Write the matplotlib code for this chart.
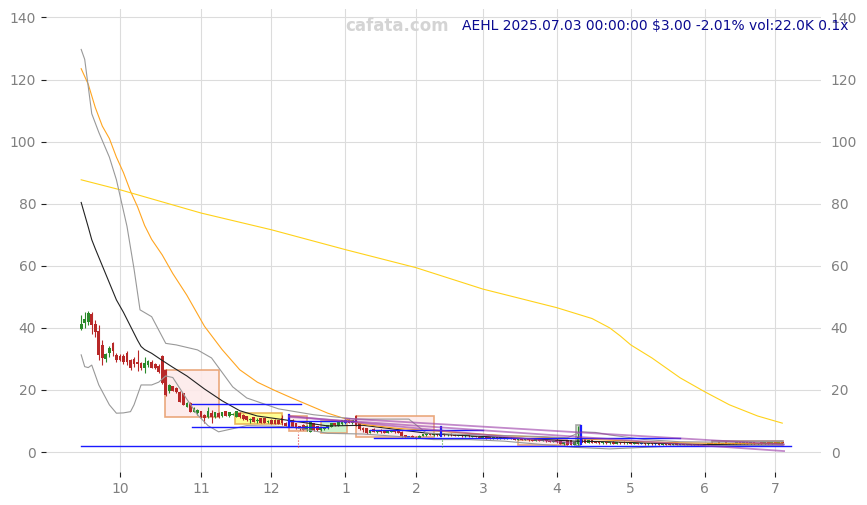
import matplotlib
matplotlib.use("Agg")
import matplotlib.pyplot as plt
from matplotlib.patches import Rectangle
import numpy as np

# daily candles, trading-day index 0..199 (2024-09-16 .. 2025-07-03)
opens = [
    39.7, 41.5, 42.0, 44.4, 41.3, 38.8, 34.5, 30.0, 31.8, 35.0,
    31.3, 30.8, 31.0, 31.8, 29.7, 30.0, 29.0, 28.6, 27.0, 28.1,
    28.9, 28.3, 27.7, 30.8, 26.4, 19.5, 21.1, 20.5, 19.2, 18.9,
    14.6, 15.7, 13.0, 12.5, 13.0, 11.9, 11.4, 12.5, 11.3, 12.5,
    11.5, 13.0, 11.5, 12.0, 11.4, 12.5, 11.9, 11.4, 10.3, 11.2,
    10.0, 10.9, 10.8, 9.6, 10.3, 10.3, 10.1, 10.8, 9.4, 10.5,
    10.3, 9.2, 8.2, 8.7, 7.2, 6.6, 9.2, 8.2, 7.0, 7.4,
    7.6, 8.2, 9.2, 8.5, 9.0, 9.2, 10.3, 9.3, 11.6, 9.2,
    7.8, 7.6, 6.2, 7.2, 6.4, 7.1, 7.0, 6.2, 6.5, 6.8,
    6.6, 6.5, 5.3, 4.6, 5.2, 4.9, 4.6, 5.1, 5.4, 5.9,
    5.5, 6.0, 5.3, 6.0, 5.4, 5.8, 5.5, 5.1, 5.5, 5.0,
    5.4, 4.9, 5.2, 4.9, 4.5, 4.9, 4.6, 4.3, 4.7, 4.3,
    4.7, 4.3, 4.5, 4.3, 4.0, 4.3, 3.9, 4.2, 3.9, 3.6,
    4.0, 3.6, 3.8, 3.5, 3.2, 3.8, 3.9, 2.6, 3.8, 3.9,
    2.4, 2.5, 4.4, 4.0, 3.0, 4.2, 3.6, 3.3, 2.8, 3.2,
    2.8, 3.3, 2.7, 3.2, 3.3, 2.8, 3.1, 2.7, 2.9, 2.6,
    2.9, 2.5, 2.9, 2.5, 2.8, 2.4, 2.8, 2.6, 2.3, 2.7,
    2.3, 2.6, 2.2, 2.5, 2.1, 2.4, 2.3, 2.0, 2.4, 2.9,
    2.6, 3.0, 2.7, 3.0, 2.6, 2.9, 2.6, 3.1, 2.7, 3.0,
    2.7, 3.1, 2.7, 3.0, 2.7, 3.0, 2.8, 3.1, 2.9, 3.1,
]
highs = [
    44.2, 45.0, 45.3, 45.2, 42.5, 41.0, 36.0, 32.0, 34.0, 35.5,
    32.0, 31.5, 31.5, 32.5, 30.0, 30.5, 33.0, 29.0, 30.5, 29.6,
    29.5, 28.8, 28.3, 31.3, 26.8, 22.0, 21.4, 20.8, 19.5, 19.0,
    16.0, 16.0, 14.5, 14.0, 13.3, 12.2, 14.6, 13.5, 13.0, 12.8,
    13.0, 13.2, 12.9, 12.5, 13.3, 12.8, 12.1, 11.6, 11.0, 11.4,
    10.8, 11.0, 11.0, 10.3, 10.5, 10.5, 10.3, 11.9, 9.6, 11.8,
    10.6, 9.4, 8.5, 8.9, 8.8, 9.9, 9.4, 8.4, 8.0, 8.2,
    8.8, 9.4, 9.5, 10.0, 10.4, 10.5, 10.6, 10.4, 11.9, 9.5,
    8.2, 7.8, 7.1, 7.6, 7.2, 7.3, 7.2, 6.8, 6.9, 7.1,
    6.8, 6.7, 5.5, 5.3, 5.4, 5.1, 5.4, 5.8, 6.0, 6.1,
    6.1, 6.2, 8.2, 6.2, 5.9, 6.0, 5.7, 5.6, 5.7, 5.5,
    5.6, 5.3, 5.3, 5.1, 5.0, 5.0, 4.8, 4.8, 4.9, 4.7,
    4.8, 4.6, 4.7, 4.4, 4.4, 4.4, 4.3, 4.3, 4.0, 4.1,
    4.1, 3.9, 3.9, 3.7, 3.7, 4.4, 4.0, 3.3, 3.9, 4.0,
    3.2, 8.5, 4.6, 4.2, 4.0, 4.4, 3.7, 3.4, 3.3, 3.3,
    3.3, 3.4, 3.2, 3.3, 3.4, 3.2, 3.2, 3.0, 3.0, 3.0,
    3.0, 2.9, 3.0, 2.9, 2.9, 2.8, 2.9, 2.7, 2.7, 2.8,
    2.7, 2.7, 2.6, 2.6, 2.5, 2.5, 2.4, 2.5, 2.9, 3.1,
    3.0, 3.1, 3.0, 3.1, 3.0, 3.0, 3.1, 3.2, 3.1, 3.1,
    3.1, 3.2, 3.0, 3.1, 3.1, 3.1, 3.1, 3.2, 3.2, 3.3,
]
lows = [
    39.4, 40.0, 41.0, 38.0, 37.0, 29.5, 28.0, 29.0, 30.5, 31.0,
    29.0, 29.2, 28.5, 28.0, 26.5, 27.5, 26.0, 26.5, 25.5, 27.5,
    27.0, 26.8, 25.5, 22.0, 18.0, 19.0, 19.5, 19.0, 16.0, 15.0,
    14.4, 12.8, 12.8, 12.0, 11.0, 9.2, 10.9, 9.2, 11.0, 11.0,
    11.3, 11.5, 11.3, 11.8, 11.2, 11.0, 10.3, 10.0, 9.5, 9.6,
    9.5, 9.3, 9.2, 9.4, 8.9, 8.9, 8.9, 8.8, 8.2, 8.5,
    8.0, 7.4, 7.2, 7.0, 6.8, 6.5, 6.8, 6.9, 6.8, 7.0,
    7.4, 8.0, 8.4, 8.3, 8.8, 9.0, 9.2, 9.1, 8.5, 7.1,
    6.6, 5.9, 6.0, 6.4, 6.2, 6.2, 6.0, 6.0, 6.3, 6.2,
    6.0, 4.9, 4.6, 4.4, 4.4, 4.3, 4.5, 5.0, 5.2, 5.4,
    5.3, 5.2, 5.1, 5.3, 5.2, 5.2, 5.0, 5.0, 4.9, 4.9,
    4.9, 4.8, 4.7, 4.5, 4.4, 4.3, 4.2, 4.2, 4.3, 4.2,
    4.2, 4.2, 4.1, 3.9, 3.9, 3.8, 3.8, 3.7, 3.5, 3.5,
    3.5, 3.4, 3.3, 3.1, 3.1, 3.0, 2.5, 2.4, 2.2, 2.2,
    2.2, 2.3, 2.9, 2.8, 2.9, 2.9, 2.8, 2.7, 2.7, 2.7,
    2.7, 2.6, 2.6, 2.7, 2.7, 2.7, 2.6, 2.6, 2.5, 2.5,
    2.4, 2.4, 2.4, 2.4, 2.3, 2.3, 2.3, 2.2, 2.2, 2.2,
    2.2, 2.1, 2.1, 2.0, 2.0, 2.0, 1.9, 1.9, 2.3, 2.5,
    2.5, 2.6, 2.6, 2.5, 2.5, 2.5, 2.5, 2.6, 2.6, 2.6,
    2.6, 2.6, 2.6, 2.6, 2.6, 2.7, 2.7, 2.8, 2.8, 2.9,
]
closes = [
    41.2, 42.9, 44.7, 41.0, 38.8, 31.3, 30.2, 31.5, 33.4, 32.4,
    29.7, 29.7, 29.0, 29.0, 27.0, 28.5, 28.2, 27.0, 28.6, 29.1,
    27.2, 27.2, 25.9, 22.2, 18.4, 21.6, 19.7, 19.2, 16.2, 15.2,
    15.7, 13.0, 14.1, 13.5, 11.4, 10.9, 13.0, 11.4, 12.7, 11.4,
    12.8, 11.7, 12.7, 12.2, 13.0, 11.2, 10.5, 10.3, 10.6, 9.8,
    10.3, 9.5, 9.4, 9.9, 9.0, 9.0, 9.0, 9.3, 8.5, 9.6,
    8.2, 7.6, 7.5, 7.1, 8.4, 9.6, 7.0, 7.2, 7.7, 8.0,
    8.6, 9.2, 8.7, 9.8, 10.2, 10.3, 9.4, 10.1, 8.7, 7.3,
    7.0, 6.1, 6.9, 6.6, 7.0, 6.4, 6.2, 6.6, 6.7, 6.4,
    6.2, 5.0, 4.8, 5.1, 4.5, 4.5, 5.2, 5.6, 5.8, 5.6,
    5.9, 5.4, 6.0, 5.5, 5.7, 5.4, 5.2, 5.5, 5.0, 5.4,
    5.0, 5.2, 4.8, 4.6, 4.9, 4.4, 4.3, 4.7, 4.4, 4.6,
    4.3, 4.5, 4.2, 4.0, 4.3, 3.9, 4.2, 3.8, 3.6, 4.0,
    3.6, 3.8, 3.4, 3.2, 3.6, 3.1, 2.6, 3.1, 2.4, 2.4,
    3.0, 4.6, 3.0, 2.9, 3.8, 3.0, 2.9, 2.8, 3.2, 2.8,
    3.2, 2.7, 3.1, 2.8, 2.8, 3.1, 2.7, 2.9, 2.6, 2.9,
    2.5, 2.8, 2.5, 2.8, 2.4, 2.7, 2.4, 2.3, 2.6, 2.3,
    2.6, 2.2, 2.5, 2.1, 2.4, 2.1, 2.0, 2.4, 2.8, 2.6,
    2.9, 2.7, 2.9, 2.6, 2.9, 2.6, 3.0, 2.7, 3.0, 2.7,
    3.0, 2.7, 2.9, 2.7, 3.0, 2.8, 3.0, 2.9, 3.06, 3.0,
]
blue_days = [75, 93, 159, 163, 170]

month_pos = [11, 34, 54, 75, 95, 114, 135, 156, 177, 197]
month_labels = ["10", "11", "12", "1", "2", "3", "4", "5", "6", "7"]

ma_black_x = [0, 2, 3, 4, 6, 8, 10, 12, 14, 16, 17, 18, 20, 23, 26, 30, 35, 40, 45, 50,
              55, 60, 70, 80, 90, 100, 110, 120, 130, 140, 150, 160, 170, 180, 190, 199]
ma_black_y = [80.4, 72.5, 68.4, 65.5, 60, 54.5, 49, 45, 40.5, 36, 34, 33, 31.8, 29.5, 27.3,
              24.5, 20.3, 16.5, 13.3, 11.6, 10.8, 10, 8.4, 8.6, 7.2, 5.8, 5.2, 4.7, 4.1, 3.5,
              3.3, 2.9, 2.6, 2.4, 2.7, 2.8]
ma_orange_x = [0, 2, 4, 6, 8, 10, 12, 14, 16, 18, 20, 23, 26, 30, 35, 40, 45, 50, 55, 60,
               70, 80, 90, 100, 110, 120, 130, 140, 150, 160, 170, 180, 190, 199]
ma_orange_y = [123.5, 118.5, 111, 105, 101, 95, 90, 84, 79, 73, 68.5, 63.5, 57.5, 50.5, 40.5,
               33, 26.5, 22.5, 19.8, 17.3, 12.5, 8.9, 7.6, 6.8, 6.0, 5.3, 4.8, 4.3, 3.8, 3.3,
               3.0, 2.8, 2.8, 2.9]
ma_yellow_x = [0, 11, 34, 54, 75, 95, 114, 135, 145, 150, 153, 156, 162, 170, 177, 184, 192, 199]
ma_yellow_y = [87.7, 84.5, 77, 71.6, 65.2, 59.4, 52.5, 46.5, 43, 40, 37.4, 34.5, 30.3, 23.9,
               19.4, 15.2, 11.6, 9.3]
bb_up_x = [0, 1, 3, 5, 8, 10, 13, 15, 16.7, 20, 24, 27, 33, 37, 43, 47, 56, 66, 78, 93, 98,
           105, 120, 130, 138, 142, 146, 150, 160, 170, 180, 190, 199]
bb_up_y = [129.7, 126.5, 109, 103, 95, 87.7, 72.7, 59, 45.8, 43.6, 35, 34.5, 32.9, 30.3, 21,
           17.4, 13.9, 12, 10.6, 10.6, 6.1, 5.8, 5.3, 5.0, 4.6, 6.5, 6.3, 5.5, 4.0, 3.3, 3.2,
           3.3, 3.4]
bb_lo_x = [0, 1, 2, 3, 5, 8, 10, 12, 14, 15, 17, 20, 22, 24, 26, 30, 33, 36, 39, 43, 47, 55,
           60, 70, 80, 90, 100, 110, 120, 130, 140, 150, 160, 170, 180, 190, 199]
bb_lo_y = [31.3, 27.5, 27.2, 28, 21.6, 15.2, 12.5, 12.6, 13, 15.2, 21.6, 21.6, 22.5, 24.5, 24,
           17, 12, 8.5, 6.5, 7.5, 8.5, 8.3, 8, 6, 5.8, 5, 4, 4, 3.5, 2.5, 1.5, 1, 1.5, 2, 2, 2,
           2.3]

# pattern boxes
box_x0 = [23.7, 43.8, 59, 68, 78, 124, 140.4, 179]
box_x1 = [39.1, 57, 64.2, 75.5, 100.2, 138, 141.6, 199.3]
box_lo = [11.3, 8.9, 6.8, 6.0, 4.7, 2.3, 2.0, 2.3]
box_hi = [26.5, 12.7, 11.7, 10.0, 11.6, 3.9, 8.7, 3.5]
box_face = ["#fdeaea", "#ffff88", "#fdeaea", "#c8f2c8", "#fdeaea", "#fdeaea", "#d8f0d0", "#e8d8d8"]
box_edge = ["#e8a070", "#e8b050", "#e8a070", "#e8a070", "#e8a070", "#e8a070", "#a0a0a0", "#a07878"]

# support / resistance lines
hl_y = [1.9, 15.5, 8.0, 10.0, 7.2, 4.4]
hl_x0 = [0, 31.4, 31.4, 59, 82, 83]
hl_x1 = [201.5, 62.3, 70, 78, 114, 170]
vl_x = [59, 102, 141.8]
vl_lo = [8.2, 5.1, 2.5]
vl_hi = [11.8, 8.2, 8.5]
tl_x0 = [59, 59, 75]
tl_y0 = [11.3, 11.6, 10.8]
tl_x1 = [199.5, 140, 199.5]
tl_y1 = [0.3, 2.8, 2.4]

fig = plt.figure(figsize=(8.67, 5.05), dpi=100)
ax = fig.add_axes([0.053, 0.065, 0.894, 0.917])

for x0, x1, lo, hi, fc, ec in zip(box_x0, box_x1, box_lo, box_hi, box_face, box_edge):
    ax.add_patch(Rectangle((x0, lo), x1 - x0, hi - lo, facecolor=fc, edgecolor=ec,
                           lw=1.2, alpha=0.9, zorder=1))

idx = np.arange(len(closes))
o = np.array(opens)
c = np.array(closes)
cols = np.where(c >= o, "#2a8a2a", "#b82828").astype(object)
for d in blue_days:
    cols[d] = "#2040d0"
ax.vlines(idx, lows, highs, colors=list(cols), lw=0.8, zorder=3)
ax.bar(idx, np.abs(c - o) + 0.08, bottom=np.minimum(o, c), width=0.78,
       color=list(cols), zorder=3, linewidth=0)

ax.plot(ma_black_x, ma_black_y, color="#222222", lw=0.8, zorder=4)
ax.plot(ma_orange_x, ma_orange_y, color="#ffa520", lw=0.8, zorder=4)
ax.plot(ma_yellow_x, ma_yellow_y, color="#ffd21a", lw=0.8, zorder=4)
ax.plot(bb_up_x, bb_up_y, color="#999999", lw=0.8, zorder=4)
ax.plot(bb_lo_x, bb_lo_y, color="#999999", lw=0.8, zorder=4)

for y, x0, x1 in zip(hl_y, hl_x0, hl_x1):
    ax.plot([x0, x1], [y, y], color="#1a1aff", lw=1.0, zorder=5)
for x, lo, hi in zip(vl_x, vl_lo, vl_hi):
    ax.plot([x, x], [lo, hi], color="#1a1aff", lw=1.6, zorder=5)
for x0, y0, x1, y1 in zip(tl_x0, tl_y0, tl_x1, tl_y1):
    ax.plot([x0, x1], [y0, y1], color="#9a3aa8", lw=1.3, alpha=0.6, zorder=5)
ax.plot([61.4, 61.4], [1.7, 6.5], color="#e04040", lw=0.8, ls=":", zorder=5)
ax.plot([102.3, 102.3], [1.6, 4.5], color="#40a040", lw=0.8, ls=":", zorder=5)

ax.set_xlim(-10, 210)
ax.set_ylim(-6.5, 142.7)
ax.set_xticks(month_pos)
ax.set_xticklabels(month_labels)
ax.set_yticks(range(0, 141, 20))
ax.grid(True, color="#dcdcdc", lw=0.8)
ax.set_axisbelow(True)
for s in ax.spines.values():
    s.set_visible(False)
ax.tick_params(axis="both", colors="#222222", labelcolor="#808080", labelsize=10,
               length=3.5, width=0.8)
ax.tick_params(axis="y", right=True, labelright=True)
for t in ax.yaxis.get_major_ticks():
    t.tick2line.set_visible(False)

fig.text(0.458, 0.948, "cafata.com", color="#d4d4d4", fontsize=12, fontweight="bold",
         ha="center", va="center")
fig.text(0.979, 0.948, "AEHL 2025.07.03 00:00:00 $3.00 -2.01% vol:22.0K 0.1x",
         color="#0a0a90", fontsize=10, ha="right", va="center")

fig.savefig("out.png", dpi=100)
